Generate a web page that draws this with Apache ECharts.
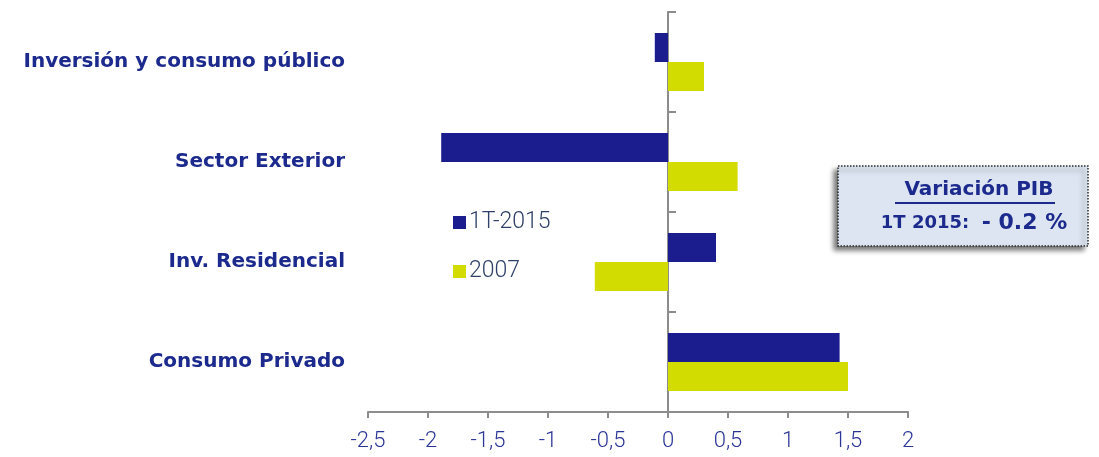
<!DOCTYPE html>
<html>
<head>
<meta charset="utf-8">
<script src="https://cdn.jsdelivr.net/npm/echarts@6/dist/echarts.min.js"></script>
<style>
  html, body { margin: 0; padding: 0; background: #fff; }
  #chart { width: 1099px; height: 457px; }
</style>
</head>
<body>
<div id="chart"></div>
<script>
const categories = ['Inversión y consumo público', 'Sector Exterior', 'Inv. Residencial', 'Consumo Privado']
const values2015 = [-0.11, -1.89, 0.4, 1.43]
const values2007 = [0.3, 0.58, -0.61, 1.5]
const seriesNames = ['1T-2015', '2007']

const navy = '#1b1d8f'
const lime = '#d3dc00'
const labelColor = '#1c2a8e'

const myChart = echarts.init(document.getElementById('chart'))

const option = {
  animation: false,
  grid: {
    left: 368,
    right: 191,
    top: 12,
    bottom: 45,
    containLabel: false
  },
  legend: {
    orient: 'vertical',
    left: 448,
    top: 206,
    itemWidth: 13,
    itemHeight: 13,
    itemGap: 26,
    icon: 'rect',
    data: seriesNames,
    textStyle: {
      fontFamily: 'Roboto',
      fontWeight: 300,
      fontSize: 23,
      color: '#2f4168',
      padding: [0, 0, 0, -2]
    }
  },
  xAxis: {
    type: 'value',
    min: -2.5,
    max: 2,
    interval: 0.5,
    axisLine: {
      show: true,
      onZero: false,
      lineStyle: { color: '#8c8c8c', width: 2 }
    },
    axisTick: {
      show: true,
      length: 6,
      lineStyle: { color: '#8c8c8c', width: 2 }
    },
    splitLine: { show: false },
    axisLabel: {
      margin: 18,
      fontFamily: 'Roboto',
      fontWeight: 300,
      fontSize: 22,
      color: '#2a3596',
      formatter: v => String(v).replace('.', ',')
    }
  },
  yAxis: [
    {
      type: 'category',
      inverse: true,
      data: categories,
      axisLine: { show: false, onZero: false },
      axisTick: { show: false },
      axisLabel: {
        margin: 23,
        fontFamily: 'DejaVu Sans',
        fontWeight: 'bold',
        fontSize: 20,
        color: labelColor
      }
    },
    {
      type: 'category',
      inverse: true,
      position: 'right',
      data: categories,
      axisLine: {
        show: true,
        onZero: true,
        lineStyle: { color: '#8c8c8c', width: 2 }
      },
      axisTick: {
        show: true,
        length: 8,
        lineStyle: { color: '#8c8c8c', width: 2 }
      },
      axisLabel: { show: false }
    }
  ],
  series: [
    {
      name: seriesNames[0],
      type: 'bar',
      yAxisIndex: 0,
      data: values2015,
      barWidth: 29,
      barGap: '0%',
      itemStyle: { color: navy }
    },
    {
      name: seriesNames[1],
      type: 'bar',
      yAxisIndex: 0,
      data: values2007,
      barWidth: 29,
      barGap: '0%',
      itemStyle: { color: lime }
    }
  ],
  graphic: [
    {
      type: 'rect',
      shape: { x: 838, y: 166, width: 250, height: 80 },
      style: {
        fill: '#dce5f1',
        stroke: '#2b2b2b',
        lineWidth: 1.5,
        lineDash: [1.5, 1.5],
        shadowColor: 'rgba(0,0,0,0.55)',
        shadowBlur: 5,
        shadowOffsetX: -4,
        shadowOffsetY: 4
      },
      z: 10
    },
    {
      type: 'text',
      x: 979,
      y: 190,
      style: {
        text: 'Variación PIB',
        align: 'center',
        verticalAlign: 'middle',
        fontFamily: 'DejaVu Sans',
        fontWeight: 'bold',
        fontSize: 20,
        fill: labelColor
      },
      z: 11
    },
    {
      type: 'line',
      shape: { x1: 895, y1: 203, x2: 1055, y2: 203 },
      style: { stroke: labelColor, lineWidth: 2 },
      z: 11
    },
    {
      type: 'text',
      x: 974,
      y: 223,
      style: {
        text: '{a|1T 2015:  }{b|- 0.2 %}',
        align: 'center',
        verticalAlign: 'middle',
        rich: {
          a: {
            fontFamily: 'DejaVu Sans',
            fontWeight: 'bold',
            fontSize: 18,
            fill: labelColor
          },
          b: {
            fontFamily: 'DejaVu Sans',
            fontWeight: 'bold',
            fontSize: 22,
            fill: labelColor
          }
        }
      },
      z: 11
    }
  ]
}

myChart.setOption(option)
window.addEventListener('resize', () => {
  myChart.resize()
})
</script>
</body>
</html>
